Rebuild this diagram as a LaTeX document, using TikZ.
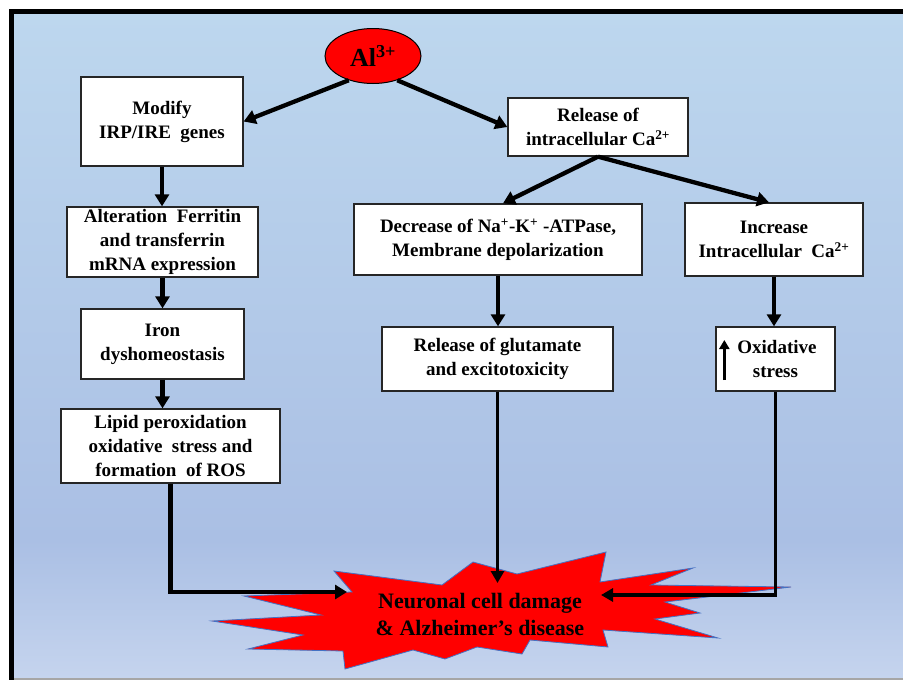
\documentclass[tikz,border=0pt]{standalone}
\usepackage{fontspec}
\setmainfont{Liberation Serif}
\usetikzlibrary{arrows.meta,shapes.geometric}
\definecolor{bgtop}{HTML}{BDD7EE}
\definecolor{bgmid}{HTML}{AABFE4}
\definecolor{bgbot}{HTML}{C5D4EE}
\definecolor{starline}{HTML}{4472C4}
\tikzset{
 box/.style={draw=black!85, line width=1.3pt, fill=white, align=center, inner sep=2pt,
   font=\bfseries\fontsize{19}{24}\selectfont},
 conn/.style={line width=4.3pt, -{Triangle[length=12pt,width=14pt]}},
 longconn/.style={line width=3.6pt, -{Triangle[length=12pt,width=13pt]}},
}
\begin{document}
\begin{tikzpicture}[x=1pt,y=-1pt]
\useasboundingbox (0,0) rectangle (903,680);
\fill[white] (0,0) rectangle (903,680);
\shade[top color=bgtop,bottom color=bgmid] (14,14) rectangle (903,540);
\shade[top color=bgmid,bottom color=bgbot] (14,540) rectangle (903,678);
\fill[black] (9,9) rectangle (903,14);
\fill[black] (9,9) rectangle (14,680);
\draw[gray!70, line width=1.5pt] (14,679) -- (903,679);

% starburst
\filldraw[fill=red, draw=starline, line width=0.8pt]
 (334,571) -- (352,592) -- (244,596) -- (321,615) -- (212,621) -- (303,635) -- (248,649)
 -- (343,651) -- (345,669) -- (413,650) -- (445,659) -- (477,647) -- (522,654) -- (530,640)
 -- (608,647) -- (603,630) -- (718,638) -- (655,619) -- (700,613) -- (665,602) -- (791,587)
 -- (651,585) -- (693,568) -- (600,582) -- (606,552) -- (517,574) -- (473,562) -- (442,585) -- cycle;
\node[font=\bfseries\fontsize{22}{27}\selectfont, align=center] (nd) at (480,614)
 {Neuronal cell damage\\\& Alzheimer’s disease};

% ellipse
\node[ellipse, draw=black, line width=1pt, fill=red, minimum width=96pt, minimum height=55pt,
 inner sep=0pt, font=\bfseries\fontsize{26}{30}\selectfont] (al) at (373,56) {Al\textsuperscript{3+}};

% boxes
\node[box, minimum width=162pt, minimum height=89pt] (mod) at (162,121.5) {Modify\\IRP/IRE~ genes};
\node[box, minimum width=191pt, minimum height=70pt] (alt) at (162.5,242) {Alteration~ Ferritin\\and transferrin\\mRNA expression};
\node[box, minimum width=163pt, minimum height=70pt] (iron) at (162.5,344) {Iron\\dyshomeostasis};
\node[box, minimum width=219pt, minimum height=74pt] (lip) at (170.5,446) {Lipid peroxidation\\oxidative~ stress and\\formation~ of ROS};
\node[box, minimum width=180pt, minimum height=58pt] (rel) at (598,127) {Release of\\intracellular Ca\textsuperscript{2+}};
\node[box, minimum width=288pt, minimum height=71pt] (dec) at (498,239.5) {Decrease of Na\textsuperscript{+}-K\textsuperscript{+} -ATPase,\\Membrane depolarization};
\node[box, minimum width=231pt, minimum height=64pt] (glu) at (497.5,359) {Release of glutamate\\and excitotoxicity};
\node[box, minimum width=178pt, minimum height=73pt] (inc) at (774,239.5) {Increase\\Intracellular~ Ca\textsuperscript{2+}};
\node[box, minimum width=119pt, minimum height=64pt] (ox) at (775.5,359) {\hspace*{3pt}Oxidative\\stress};

% up arrow in oxidative box
\coordinate (upa) at ([xshift=9pt,yshift=-21pt]ox.west);
\coordinate (upb) at ([xshift=9pt,yshift=19pt]ox.west);
\draw[line width=3pt, -{Triangle[length=9pt,width=10pt]}] (upa) -- (upb);

% connector end points
\coordinate (lipend) at (347,592);
\coordinate (gluend) at (497.5,583);
\coordinate (oxend) at (601,595);

% connectors
\draw[conn] (al.225) -- (mod.east);
\draw[conn] (al.-45) -- (rel.west);
\draw[conn] (mod.south) -- (alt.north -| mod.south);
\draw[conn] (alt.south) -- (iron.north);
\draw[conn] (iron.south) -- (iron.south |- lip.north);
\draw[conn] (rel.south) -- ([xshift=5pt]dec.north);
\draw[conn] (rel.south) -- ([xshift=-5pt]inc.north);
\draw[conn] (dec.south) -- (glu.north -| dec.south);
\draw[conn] (inc.south) -- (inc.south |- ox.north);
\draw[conn, line width=4.8pt] (lip.south) |- (lipend);
\draw[longconn] (glu.south) -- (gluend);
\draw[longconn] (ox.south) |- (oxend);
\end{tikzpicture}
\end{document}
